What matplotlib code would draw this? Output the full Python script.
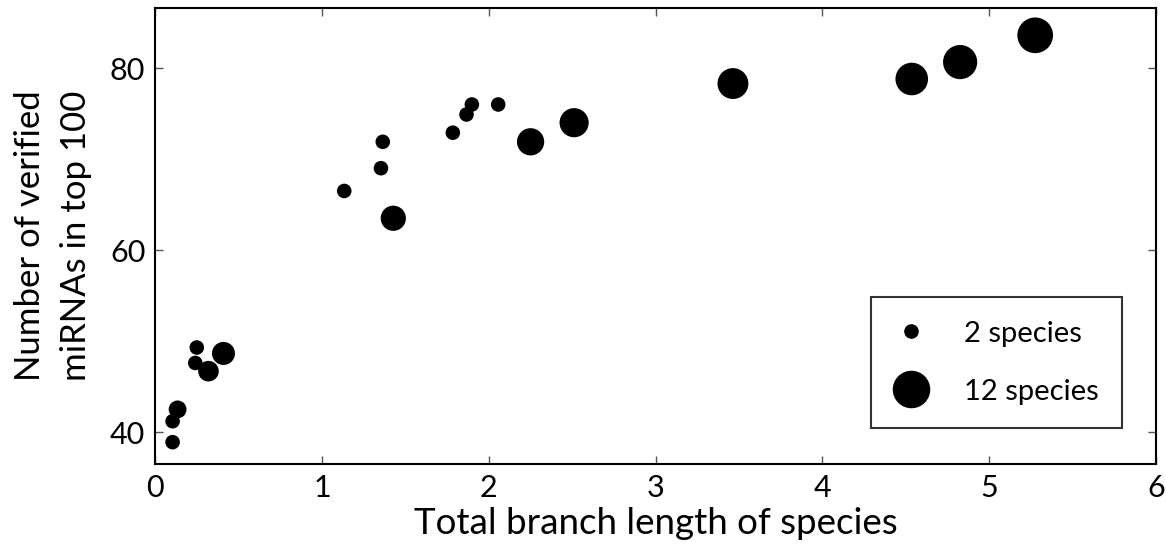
import matplotlib.pyplot as plt
from matplotlib.lines import Line2D

plt.rcParams['font.family'] = ['Lato', 'DejaVu Sans']

# subsets of species: total branch length, verified miRNAs in top 100, number of species
branch_length = [0.105, 0.105, 0.135, 0.25, 0.241, 0.32, 0.41,
                 1.134, 1.354, 1.365, 1.428, 1.785, 1.867, 1.899, 2.057,
                 2.251, 2.512, 3.464, 4.536, 4.826, 5.276]
verified = [38.9, 41.2, 42.5, 49.3, 47.6, 46.7, 48.65,
            66.5, 69.0, 71.9, 63.5, 72.9, 74.9, 76.0, 76.0,
            71.9, 74.0, 78.3, 78.8, 80.66, 83.6]
n_species = [2, 2, 3, 2, 2, 4, 5,
             2, 2, 2, 6, 2, 2, 2, 2,
             7, 8, 9, 10, 11, 12]

legend_species = [2, 12]
size_per_species = 55

fig = plt.figure(figsize=(11.66, 5.52), dpi=100)
ax = fig.add_axes([0.133, 0.1594, 0.8584, 0.8261])

ax.scatter(branch_length, verified, s=[size_per_species * n for n in n_species],
           c='black', edgecolors='none', zorder=3)

ax.set_xlim(0, 6)
ax.set_ylim(36.5, 86.6)
ax.set_xticks([0, 1, 2, 3, 4, 5, 6])
ax.set_yticks([40, 60, 80])
ax.tick_params(direction='in', top=True, right=True, length=6, width=1,
               color='#555555', labelsize=22, pad=7)
for sp in ax.spines.values():
    sp.set_linewidth(1.5)

ax.set_xlabel('Total branch length of species', fontsize=26.5, labelpad=4)
ax.set_ylabel('Number of verified\nmiRNAs in top 100', fontsize=25, labelpad=13,
              linespacing=1.55)

handles = [Line2D([], [], linestyle='none', marker='o', color='black',
                  markersize=ms)
           for ms in [9.5, 26]]
labels = ['%d species' % n for n in legend_species]
leg = ax.legend(handles, labels, loc='lower right', bbox_to_anchor=(0.966, 0.079),
                borderaxespad=0, fontsize=21, frameon=True, fancybox=False,
                handletextpad=1.2, labelspacing=1.1, borderpad=0.8, handlelength=1.2)
leg.get_frame().set_edgecolor('black')
leg.get_frame().set_linewidth(1.5)

fig.savefig('out.png', dpi=100)
